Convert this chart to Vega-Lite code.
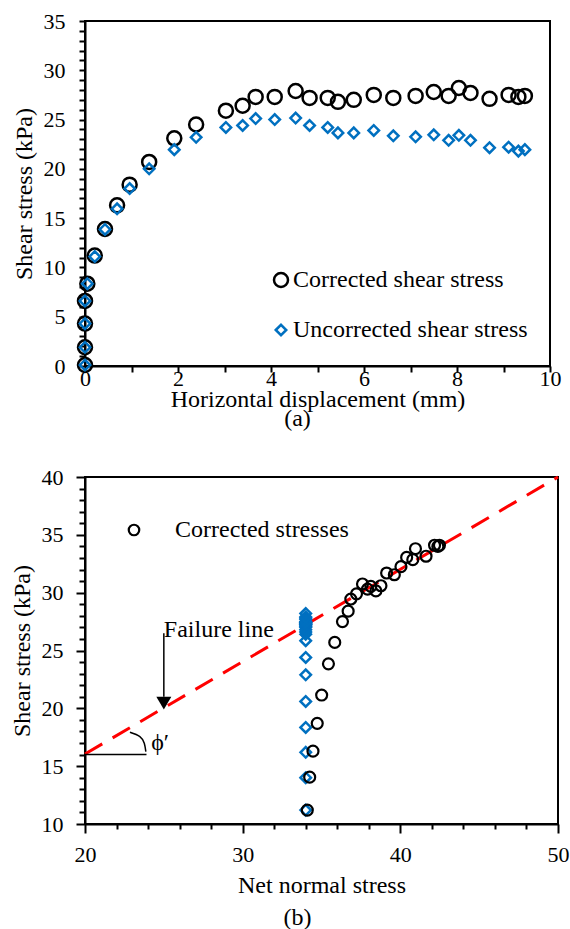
{
  "$schema": "https://vega.github.io/schema/vega-lite/v6.json",
  "background": "white",
  "padding": {"left": 9, "top": 9, "right": 0, "bottom": 0},
  "config": {
    "font": "Liberation Serif",
    "view": {"stroke": "black", "strokeWidth": 2},
    "style": {"guide-label": {"font": "Liberation Serif"}, "guide-title": {"font": "Liberation Serif"}},
    "axis": {"domainColor": "black", "domainWidth": 2, "tickColor": "black", "tickWidth": 2, "labelColor": "black", "titleColor": "black", "labelFont": "Liberation Serif", "titleFont": "Liberation Serif", "labelFontSize": 22, "titleFontSize": 24, "titleFontWeight": "normal", "grid": false, "labelFlush": false, "labelOverlap": false},
    "legend": {"labelFont": "Liberation Serif", "labelFontSize": 24, "labelColor": "black", "labelLimit": 0},
    "title": {"font": "Liberation Serif", "fontSize": 24, "fontWeight": "normal", "color": "black"}
  },
  "concat": [
    {
      "width": 465,
      "height": 345,
      "title": {"text": "(a)", "orient": "bottom", "anchor": "middle", "dx": -20, "offset": -4},
      "data": {"values": [
        {"x": 0.0, "y": 0.1, "series": "Corrected shear stress"},
        {"x": 0.0, "y": 1.9, "series": "Corrected shear stress"},
        {"x": 0.0, "y": 4.3, "series": "Corrected shear stress"},
        {"x": 0.0, "y": 6.6, "series": "Corrected shear stress"},
        {"x": 0.05, "y": 8.35, "series": "Corrected shear stress"},
        {"x": 0.21, "y": 11.2, "series": "Corrected shear stress"},
        {"x": 0.43, "y": 13.9, "series": "Corrected shear stress"},
        {"x": 0.69, "y": 16.3, "series": "Corrected shear stress"},
        {"x": 0.96, "y": 18.4, "series": "Corrected shear stress"},
        {"x": 1.38, "y": 20.7, "series": "Corrected shear stress"},
        {"x": 1.92, "y": 23.1, "series": "Corrected shear stress"},
        {"x": 2.39, "y": 24.5, "series": "Corrected shear stress"},
        {"x": 3.03, "y": 25.9, "series": "Corrected shear stress"},
        {"x": 3.39, "y": 26.4, "series": "Corrected shear stress"},
        {"x": 3.67, "y": 27.3, "series": "Corrected shear stress"},
        {"x": 4.08, "y": 27.3, "series": "Corrected shear stress"},
        {"x": 4.53, "y": 27.9, "series": "Corrected shear stress"},
        {"x": 4.83, "y": 27.2, "series": "Corrected shear stress"},
        {"x": 5.22, "y": 27.2, "series": "Corrected shear stress"},
        {"x": 5.44, "y": 26.8, "series": "Corrected shear stress"},
        {"x": 5.78, "y": 27.0, "series": "Corrected shear stress"},
        {"x": 6.21, "y": 27.5, "series": "Corrected shear stress"},
        {"x": 6.63, "y": 27.2, "series": "Corrected shear stress"},
        {"x": 7.11, "y": 27.4, "series": "Corrected shear stress"},
        {"x": 7.50, "y": 27.8, "series": "Corrected shear stress"},
        {"x": 7.82, "y": 27.4, "series": "Corrected shear stress"},
        {"x": 8.04, "y": 28.2, "series": "Corrected shear stress"},
        {"x": 8.29, "y": 27.7, "series": "Corrected shear stress"},
        {"x": 8.70, "y": 27.1, "series": "Corrected shear stress"},
        {"x": 9.11, "y": 27.5, "series": "Corrected shear stress"},
        {"x": 9.32, "y": 27.3, "series": "Corrected shear stress"},
        {"x": 9.46, "y": 27.4, "series": "Corrected shear stress"},
        {"x": 0.0, "y": 0.1, "series": "Uncorrected shear stress"},
        {"x": 0.0, "y": 1.9, "series": "Uncorrected shear stress"},
        {"x": 0.0, "y": 4.3, "series": "Uncorrected shear stress"},
        {"x": 0.0, "y": 6.6, "series": "Uncorrected shear stress"},
        {"x": 0.05, "y": 8.35, "series": "Uncorrected shear stress"},
        {"x": 0.21, "y": 11.1, "series": "Uncorrected shear stress"},
        {"x": 0.43, "y": 13.85, "series": "Uncorrected shear stress"},
        {"x": 0.69, "y": 15.95, "series": "Uncorrected shear stress"},
        {"x": 0.96, "y": 18.0, "series": "Uncorrected shear stress"},
        {"x": 1.38, "y": 20.0, "series": "Uncorrected shear stress"},
        {"x": 1.92, "y": 21.95, "series": "Uncorrected shear stress"},
        {"x": 2.39, "y": 23.2, "series": "Uncorrected shear stress"},
        {"x": 3.03, "y": 24.2, "series": "Uncorrected shear stress"},
        {"x": 3.39, "y": 24.4, "series": "Uncorrected shear stress"},
        {"x": 3.67, "y": 25.1, "series": "Uncorrected shear stress"},
        {"x": 4.08, "y": 25.0, "series": "Uncorrected shear stress"},
        {"x": 4.53, "y": 25.15, "series": "Uncorrected shear stress"},
        {"x": 4.83, "y": 24.4, "series": "Uncorrected shear stress"},
        {"x": 5.22, "y": 24.2, "series": "Uncorrected shear stress"},
        {"x": 5.44, "y": 23.65, "series": "Uncorrected shear stress"},
        {"x": 5.78, "y": 23.65, "series": "Uncorrected shear stress"},
        {"x": 6.21, "y": 23.9, "series": "Uncorrected shear stress"},
        {"x": 6.63, "y": 23.35, "series": "Uncorrected shear stress"},
        {"x": 7.11, "y": 23.25, "series": "Uncorrected shear stress"},
        {"x": 7.50, "y": 23.45, "series": "Uncorrected shear stress"},
        {"x": 7.82, "y": 22.9, "series": "Uncorrected shear stress"},
        {"x": 8.04, "y": 23.4, "series": "Uncorrected shear stress"},
        {"x": 8.29, "y": 22.9, "series": "Uncorrected shear stress"},
        {"x": 8.70, "y": 22.15, "series": "Uncorrected shear stress"},
        {"x": 9.11, "y": 22.2, "series": "Uncorrected shear stress"},
        {"x": 9.32, "y": 21.8, "series": "Uncorrected shear stress"},
        {"x": 9.46, "y": 21.95, "series": "Uncorrected shear stress"}
      ]},
      "mark": {"type": "point", "filled": false, "strokeWidth": 2.5, "opacity": 1},
      "encoding": {
        "x": {"field": "x", "type": "quantitative", "scale": {"domain": [0, 10], "nice": false},
          "axis": {"title": "Horizontal displacement (mm)", "values": [0,1,2,3,4,5,6,7,8,9,10], "labelExpr": "datum.value % 2 === 0 ? datum.label : ''", "labelFont": "Liberation Serif", "tickSize": 6, "labelPadding": -4, "titlePadding": -2}},
        "y": {"field": "y", "type": "quantitative", "scale": {"domain": [0, 35], "nice": false},
          "axis": {"title": "Shear stress (kPa)", "values": [0,1,2,3,4,5,6,7,8,9,10,11,12,13,14,15,16,17,18,19,20,21,22,23,24,25,26,27,28,29,30,31,32,33,34,35], "labelExpr": "datum.value % 5 === 0 ? datum.label : ''", "labelFont": "Liberation Serif", "tickSize": 6, "labelPadding": 14, "titlePadding": 7}},
        "color": {"field": "series", "type": "nominal", "scale": {"domain": ["Corrected shear stress", "Uncorrected shear stress"], "range": ["black", "#0070C0"]},
          "legend": {"title": null, "orient": "none", "legendX": 184, "legendY": 247, "padding": 0, "rowPadding": 26, "labelOffset": 0, "symbolStrokeWidth": 2.5, "labelFontSize": 24, "labelLimit": 0}},
        "shape": {"field": "series", "type": "nominal", "scale": {"domain": ["Corrected shear stress", "Uncorrected shear stress"], "range": ["circle", "diamond"]},
          "legend": {"title": null, "orient": "none", "legendX": 184, "legendY": 247, "padding": 0, "rowPadding": 26, "labelOffset": 0, "symbolStrokeWidth": 2.5, "labelFontSize": 24, "labelLimit": 0}},
        "size": {"field": "series", "type": "nominal", "scale": {"domain": ["Corrected shear stress", "Uncorrected shear stress"], "range": [196, 110]},
          "legend": {"title": null, "orient": "none", "legendX": 184, "legendY": 247, "padding": 0, "rowPadding": 26, "labelOffset": 0, "symbolStrokeWidth": 2.5, "labelFontSize": 24, "labelLimit": 0}}
      }
    },
    {
      "width": 473,
      "height": 347,
      "title": {"text": "(b)", "orient": "bottom", "anchor": "middle", "dx": -24, "offset": 9},
      "encoding": {
        "x": {"field": "x", "type": "quantitative", "scale": {"domain": [20, 50], "nice": false},
          "axis": {"title": "Net normal stress", "values": [20,22,24,26,28,30,32,34,36,38,40,42,44,46,48,50], "labelExpr": "datum.value % 10 === 0 ? datum.label : ''", "labelFont": "Liberation Serif", "tickSize": {"condition": {"test": "datum.value % 10 === 0", "value": 9}, "value": 5}, "labelPadding": 11, "titlePadding": 8}},
        "y": {"field": "y", "type": "quantitative", "scale": {"domain": [10, 40], "nice": false},
          "axis": {"title": "Shear stress (kPa)", "values": [10,11,12,13,14,15,16,17,18,19,20,21,22,23,24,25,26,27,28,29,30,31,32,33,34,35,36,37,38,39,40], "labelExpr": "datum.value % 5 === 0 ? datum.label : ''", "labelFont": "Liberation Serif", "tickSize": {"condition": {"test": "datum.value % 5 === 0", "value": 9}, "value": 6}, "labelPadding": 13, "titlePadding": 7}}
      },
      "layer": [
        {
          "data": {"values": [{"x": 20, "y": 16.05}, {"x": 50, "y": 40}]},
          "mark": {"type": "line", "color": "#FF0000", "strokeWidth": 3, "strokeDash": [20, 12]}
        },
        {
          "data": {"values": [
            {"x": 34.0, "y": 11.2}, {"x": 34.0, "y": 14.0}, {"x": 34.0, "y": 16.2}, {"x": 34.0, "y": 18.35},
            {"x": 34.0, "y": 20.6}, {"x": 34.0, "y": 22.9}, {"x": 34.0, "y": 24.4}, {"x": 34.0, "y": 25.85},
            {"x": 34.0, "y": 26.4}, {"x": 34.0, "y": 26.6}, {"x": 34.0, "y": 26.8}, {"x": 34.0, "y": 27.0},
            {"x": 34.0, "y": 27.1}, {"x": 34.0, "y": 27.2}, {"x": 34.0, "y": 27.25}, {"x": 34.0, "y": 27.3},
            {"x": 34.0, "y": 27.35}, {"x": 34.0, "y": 27.4}, {"x": 34.0, "y": 27.45}, {"x": 34.0, "y": 27.5},
            {"x": 34.0, "y": 27.7}, {"x": 34.0, "y": 27.8}, {"x": 34.0, "y": 27.9}, {"x": 34.0, "y": 28.2}
          ]},
          "mark": {"type": "point", "shape": "diamond", "filled": false, "color": "#0070C0", "strokeWidth": 2.5, "size": 110, "opacity": 1}
        },
        {
          "data": {"values": [
            {"x": 34.10, "y": 11.2}, {"x": 34.25, "y": 14.05}, {"x": 34.46, "y": 16.3}, {"x": 34.73, "y": 18.7},
            {"x": 35.01, "y": 21.15}, {"x": 35.44, "y": 23.85}, {"x": 35.84, "y": 25.7}, {"x": 36.33, "y": 27.5},
            {"x": 36.69, "y": 28.4}, {"x": 36.86, "y": 29.45}, {"x": 37.22, "y": 29.9}, {"x": 37.6, "y": 30.75},
            {"x": 37.92, "y": 30.3}, {"x": 38.13, "y": 30.55}, {"x": 38.45, "y": 30.15}, {"x": 38.77, "y": 30.6},
            {"x": 39.13, "y": 31.7}, {"x": 39.62, "y": 31.55}, {"x": 40.04, "y": 32.25}, {"x": 40.4, "y": 33.05},
            {"x": 40.79, "y": 32.85}, {"x": 40.96, "y": 33.8}, {"x": 41.63, "y": 33.15}, {"x": 42.17, "y": 34.1},
            {"x": 42.38, "y": 34.0}, {"x": 42.48, "y": 34.1}
          ]},
          "mark": {"type": "point", "filled": false, "color": "black", "strokeWidth": 2.2, "size": 120, "opacity": 1},
          "encoding": {
            "shape": {"datum": "Corrected stresses", "type": "nominal", "scale": {"domain": ["Corrected stresses"], "range": ["circle"]},
              "legend": {"title": null, "orient": "none", "legendX": 37, "legendY": 41, "padding": 0, "labelOffset": 29, "symbolStrokeWidth": 2.2, "symbolSize": 110, "symbolStrokeColor": "black", "labelFontSize": 24, "labelLimit": 0}}
          }
        },
        {
          "data": {"values": [{"x": 25, "y": 26.5, "y2": 21}]},
          "mark": {"type": "rule", "color": "black", "strokeWidth": 1.5},
          "encoding": {"y2": {"field": "y2"}}
        },
        {
          "data": {"values": [{"x": 25, "y": 20.45}]},
          "mark": {"type": "point", "shape": "triangle-down", "filled": true, "color": "black", "size": 225, "opacity": 1}
        },
        {
          "data": {"values": [{"x": 25, "y": 26.2, "label": "Failure line"}]},
          "mark": {"type": "text", "align": "left", "baseline": "alphabetic", "fontSize": 24, "color": "black", "font": "Liberation Serif"},
          "encoding": {"text": {"field": "label"}}
        },
        {
          "data": {"values": [{"x": 20, "x2": 23.9, "y": 16.0}]},
          "mark": {"type": "rule", "color": "black", "strokeWidth": 1.5},
          "encoding": {"x2": {"field": "x2"}}
        },
        {
          "data": {"values": [
            {"x": 22.85, "y": 17.93}, {"x": 23.48, "y": 17.56}, {"x": 23.76, "y": 16.98}, {"x": 23.86, "y": 16.26}
          ]},
          "mark": {"type": "line", "color": "black", "strokeWidth": 1.5, "interpolate": "natural"}
        },
        {
          "data": {"values": [{"x": 24.2, "y": 16.4, "label": "ϕ′"}]},
          "mark": {"type": "text", "align": "left", "baseline": "alphabetic", "fontSize": 24, "color": "black", "font": "Liberation Serif"},
          "encoding": {"text": {"field": "label"}}
        }
      ]
    }
  ],
  "columns": 1,
  "align": "none",
  "spacing": 33,
  "resolve": {
    "scale": {"x": "independent", "y": "independent", "shape": "independent", "color": "independent", "size": "independent"},
    "legend": {"shape": "independent", "color": "independent", "size": "independent"}
  }
}
